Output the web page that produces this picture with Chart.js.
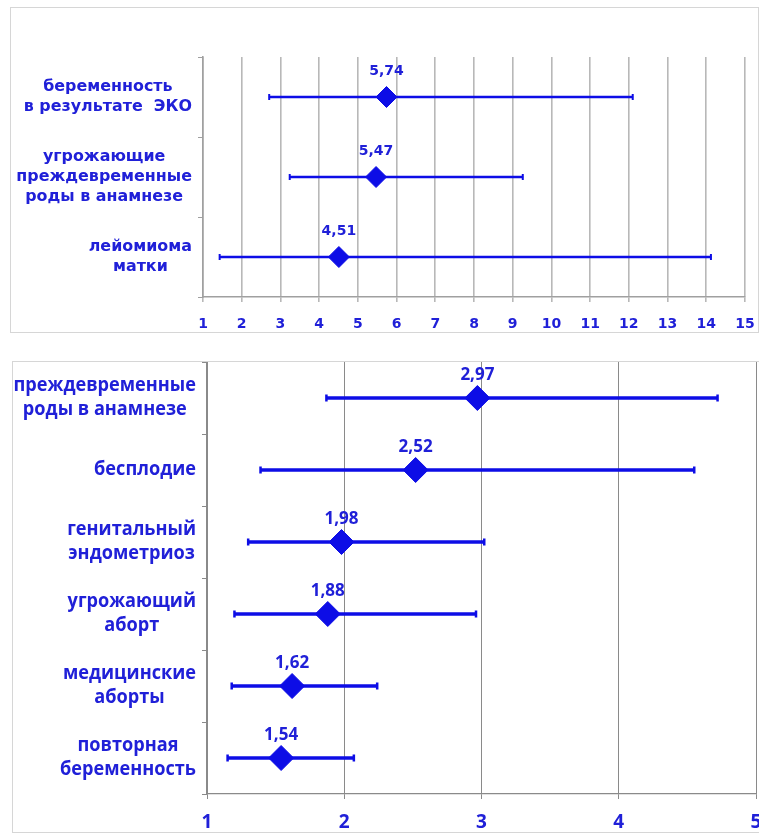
<!DOCTYPE html>
<html>
<head>
<meta charset="utf-8">
<script src="https://cdn.jsdelivr.net/npm/chart.js@4/dist/chart.umd.min.js"></script>
<style>
  html, body { margin: 0; padding: 0; background: #ffffff; }
  body { width: 759px; height: 835px; position: relative; overflow: hidden; }
  .panel { position: absolute; border: 1px solid #d6d6d6; }
  .panel canvas { display: block; }
</style>
</head>
<body>
<div class="panel" style="left:10px; top:7px;"><canvas id="topChart" width="747" height="324"></canvas></div>
<div class="panel" style="left:12px; top:361px;"><canvas id="bottomChart" width="746" height="470"></canvas></div>
<script>
// Risk factors, upper panel: odds ratio with confidence interval
const topCategories = [
  ['беременность', 'в результате  ЭКО'],
  ['угрожающие', 'преждевременные', 'роды в анамнезе'],
  ['лейомиома', 'матки']
];
const topOR = [5.74, 5.47, 4.51];
const topLow = [2.71, 3.24, 1.43];
const topHigh = [12.10, 9.26, 14.12];
const topAxisMin = 1;
const topAxisMax = 15;

// Risk factors, lower panel
const bottomCategories = [
  ['преждевременные', 'роды в анамнезе'],
  ['бесплодие'],
  ['генитальный', 'эндометриоз'],
  ['угрожающий', 'аборт'],
  ['медицинские', 'аборты'],
  ['повторная', 'беременность']
];
const bottomOR = [2.97, 2.52, 1.98, 1.88, 1.62, 1.54];
const bottomLow = [1.87, 1.39, 1.30, 1.20, 1.18, 1.15];
const bottomHigh = [4.72, 4.55, 3.02, 2.96, 2.24, 2.07];
const bottomAxisMin = 1;
const bottomAxisMax = 5;

const MARK = '#0d0de6';
const TEXT = '#2020d8';

// Draws the multi-line category names (each block right-aligned, lines centred)
// and the value above each diamond.
function makeLabelPlugin(s) {
  return {
    id: 'forestLabels',
    afterDraw(chart) {
      const ctx = chart.ctx;
      const xs = chart.scales.x, ys = chart.scales.y;
      ctx.save();
      ctx.fillStyle = TEXT;
      ctx.textAlign = 'center';
      ctx.textBaseline = 'middle';
      ctx.font = s.font;
      s.categories.forEach((lines, i) => {
        const cy = ys.getPixelForValue(i);
        const block = Math.max(...lines.map(t => ctx.measureText(t).width)) * s.stretch;
        const cx = s.right - block / 2;
        lines.forEach((t, k) => {
          const ly = cy + (k - (lines.length - 1) / 2) * s.lineHeight;
          ctx.save();
          ctx.translate(cx, ly);
          ctx.scale(s.stretch, 1);
          ctx.fillText(t, 0, 0);
          ctx.restore();
        });
      });
      ctx.font = s.valueFont;
      s.values.forEach((v, i) => {
        const px = xs.getPixelForValue(v);
        const py = ys.getPixelForValue(i) - s.valueOffset;
        ctx.fillText(v.toFixed(2).replace('.', ','), px, py);
      });
      ctx.restore();
    }
  };
}

function forestChart(id, cfg) {
  const idx = cfg.categories.map((_, i) => i);
  return new Chart(document.getElementById(id), {
    type: 'bar',
    data: {
      labels: cfg.categories.map(l => l.join(' ')),
      datasets: [
        {
          type: 'line', indexAxis: 'y', order: 0, showLine: false,
          data: idx.map(i => ({ x: cfg.or[i], y: i })),
          pointStyle: 'rectRot', pointRadius: cfg.diamond,
          pointBackgroundColor: MARK, pointBorderColor: MARK, pointBorderWidth: 1
        },
        {
          type: 'line', indexAxis: 'y', order: 1, showLine: false,
          data: idx.map(i => ({ x: cfg.low[i], y: i })),
          pointStyle: 'line', pointRotation: 90, pointRadius: cfg.cap,
          pointBorderColor: MARK, pointBorderWidth: cfg.capWidth
        },
        {
          type: 'line', indexAxis: 'y', order: 1, showLine: false,
          data: idx.map(i => ({ x: cfg.high[i], y: i })),
          pointStyle: 'line', pointRotation: 90, pointRadius: cfg.cap,
          pointBorderColor: MARK, pointBorderWidth: cfg.capWidth
        },
        {
          type: 'bar', order: 2,
          data: idx.map(i => [cfg.low[i], cfg.high[i]]),
          backgroundColor: MARK, borderWidth: 0,
          barThickness: cfg.whisker, borderSkipped: false
        }
      ]
    },
    options: {
      indexAxis: 'y',
      responsive: false,
      animation: false,
      events: [],
      layout: { padding: cfg.padding, autoPadding: false },
      plugins: { legend: { display: false }, tooltip: { enabled: false } },
      scales: {
        x: {
          type: 'linear',
          min: cfg.min, max: cfg.max,
          afterFit: sc => { sc.height = cfg.xHeight; sc.paddingLeft = 0; sc.paddingRight = 0; },
          ticks: {
            stepSize: 1, autoSkip: false, maxRotation: 0,
            color: TEXT, font: cfg.tickFont, padding: cfg.tickPad
          },
          grid: { color: cfg.gridColor, lineWidth: cfg.gridWidth, tickLength: 5, drawTicks: true },
          border: { display: true, color: cfg.axisColor, width: cfg.axisWidth }
        },
        y: {
          type: 'category',
          offset: true,
          afterFit: sc => { sc.width = cfg.yWidth; sc.paddingTop = 0; sc.paddingBottom = 0; },
          ticks: { display: false },
          grid: { offset: true, drawOnChartArea: false, drawTicks: true, tickLength: 5,
                  color: cfg.axisColor, lineWidth: 1 },
          border: { display: true, color: cfg.axisColor, width: cfg.axisWidth }
        }
      }
    },
    plugins: [makeLabelPlugin({
      categories: cfg.categories, values: cfg.or,
      font: cfg.labelFont, stretch: cfg.stretch, lineHeight: cfg.lineHeight,
      right: cfg.labelRight,
      valueFont: cfg.valueFont, valueOffset: cfg.valueOffset
    })]
  });
}

forestChart('topChart', {
  categories: topCategories, or: topOR, low: topLow, high: topHigh,
  min: topAxisMin, max: topAxisMax,
  padding: { top: 49, right: 13, left: 0, bottom: 0 },
  yWidth: 192, xHeight: 35,
  tickFont: { family: 'DejaVu Sans', size: 14, weight: 'bold' }, tickPad: 14,
  gridColor: '#b8b8b8', gridWidth: 1.6, axisColor: '#a0a0a0', axisWidth: 1.6,
  diamond: 10.5, cap: 3, capWidth: 2, whisker: 2,
  labelFont: 'bold 15px "DejaVu Sans"', stretch: 1.06, lineHeight: 20, labelRight: 181,
  valueFont: 'bold 14px "DejaVu Sans"', valueOffset: 26
});

forestChart('bottomChart', {
  categories: bottomCategories, or: bottomOR, low: bottomLow, high: bottomHigh,
  min: bottomAxisMin, max: bottomAxisMax,
  padding: { top: 0, right: 3, left: 0, bottom: 0 },
  yWidth: 194, xHeight: 38,
  tickFont: { family: 'Open Sans', size: 19, weight: 'bold' }, tickPad: 12,
  gridColor: '#8a8a8a', gridWidth: 1, axisColor: '#8a8a8a', axisWidth: 1.2,
  diamond: 12.5, cap: 3.5, capWidth: 2.5, whisker: 3,
  labelFont: 'bold 19px "Open Sans"', stretch: 0.955, lineHeight: 24, labelRight: 183,
  valueFont: 'bold 17px "Open Sans"', valueOffset: 23
});
</script>
</body>
</html>
